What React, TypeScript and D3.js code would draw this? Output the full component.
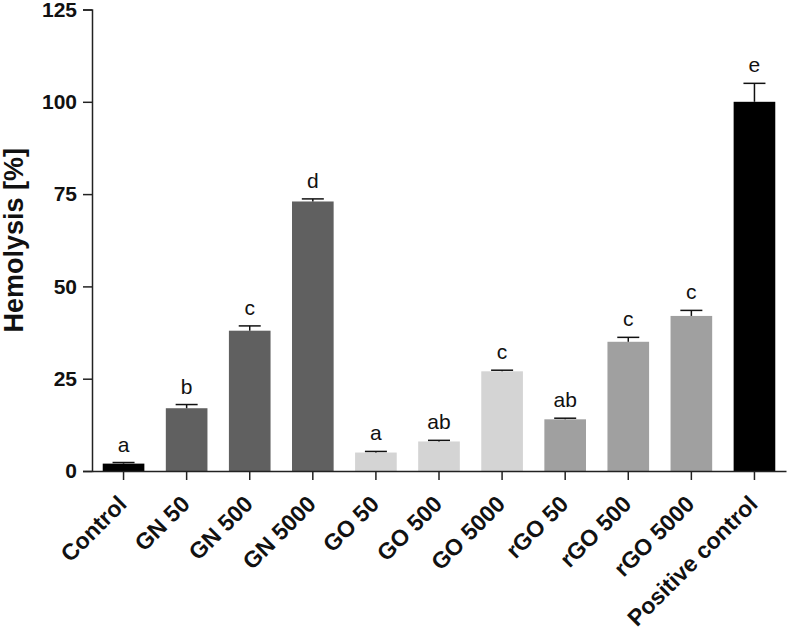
import { useRef, useEffect } from 'react';
import * as d3 from "d3";

const categories = ["Control", "GN 50", "GN 500", "GN 5000", "GO 50", "GO 500", "GO 5000", "rGO 50", "rGO 500", "rGO 5000", "Positive control"];
const values = [2, 17, 38, 73, 5, 8, 27, 14, 35, 42, 100];
const errors = [0.3, 1, 1.3, 0.7, 0.3, 0.3, 0.3, 0.3, 1.2, 1.5, 5];
const letters = ["a", "b", "c", "d", "a", "ab", "c", "ab", "c", "c", "e"];
const colors = ["#000000", "#606060", "#606060", "#606060", "#d4d4d4", "#d4d4d4", "#d4d4d4", "#a0a0a0", "#a0a0a0", "#a0a0a0", "#000000"];
const yTicks = [0, 25, 50, 75, 100, 125];

const FONT = "'Liberation Sans', Arial, sans-serif";

const App = () => {
  const ref = useRef<SVGSVGElement>(null);

  useEffect(() => {
    const svg = d3.select(ref.current);
    svg.selectAll("*").remove();

    const left = 92, right = 786, top = 9.5, bottom = 471;
    const x = d3.scaleBand().domain(categories).range([left, right]).paddingInner(0.34).paddingOuter(0.17);
    const y = d3.scaleLinear().domain([0, 125]).range([bottom, top]);

    const g = svg.append("g");

    // bars
    g.selectAll("rect.bar").data(categories).enter().append("rect")
      .attr("class", "bar")
      .attr("x", d => x(d)!)
      .attr("width", x.bandwidth())
      .attr("y", (d, i) => y(values[i]))
      .attr("height", (d, i) => y(0) - y(values[i]))
      .attr("fill", (d, i) => colors[i]);

    // error bars (upper only) + significance letters
    const capW = 22;
    categories.forEach((c, i) => {
      const cx = x(c)! + x.bandwidth() / 2;
      const yt = y(values[i] + errors[i]);
      g.append("line").attr("x1", cx).attr("x2", cx).attr("y1", y(values[i])).attr("y2", yt)
        .attr("stroke", "#111").attr("stroke-width", 1.5);
      g.append("line").attr("x1", cx - capW / 2).attr("x2", cx + capW / 2).attr("y1", yt).attr("y2", yt)
        .attr("stroke", "#111").attr("stroke-width", 1.5);
      g.append("text").attr("x", cx).attr("y", yt - 11)
        .attr("text-anchor", "middle").attr("font-family", FONT).attr("font-size", 21)
        .attr("fill", "#111").text(letters[i]);
    });

    // y axis
    const yAxis = g.append("g").attr("transform", `translate(${left},0)`)
      .call(d3.axisLeft(y).tickValues(yTicks).tickSize(9).tickPadding(6));
    yAxis.select(".domain").attr("stroke", "#222").attr("stroke-width", 1.5);
    yAxis.selectAll(".tick line").attr("stroke", "#222").attr("stroke-width", 1.5);
    yAxis.selectAll(".tick text").attr("font-family", FONT).attr("font-size", 21)
      .attr("font-weight", "bold").attr("fill", "#111");

    // x axis
    const xAxis = g.append("g").attr("transform", `translate(0,${bottom})`)
      .call(d3.axisBottom(x).tickSize(9).tickSizeOuter(0));
    xAxis.select(".domain").attr("stroke", "#222").attr("stroke-width", 1.5);
    xAxis.selectAll(".tick line").attr("stroke", "#222").attr("stroke-width", 1.5);
    xAxis.selectAll(".tick text")
      .attr("font-family", FONT).attr("font-size", 23).attr("font-weight", "bold").attr("fill", "#111")
      .attr("text-anchor", "end")
      .attr("transform", "translate(-7,23) rotate(-45)")
      .attr("dy", "0.71em").attr("y", 0).attr("x", 0);

    // y title
    svg.append("text")
      .attr("transform", `translate(23,${(top + bottom) / 2}) rotate(-90)`)
      .attr("text-anchor", "middle")
      .attr("font-family", FONT).attr("font-size", 27).attr("font-weight", "bold").attr("fill", "#111")
      .text("Hemolysis [%]");
  }, []);

  return <svg ref={ref} width={788} height={632} style={{ position: "absolute", left: 0, top: 0, background: "#fff" }} />;
};

export default App;
